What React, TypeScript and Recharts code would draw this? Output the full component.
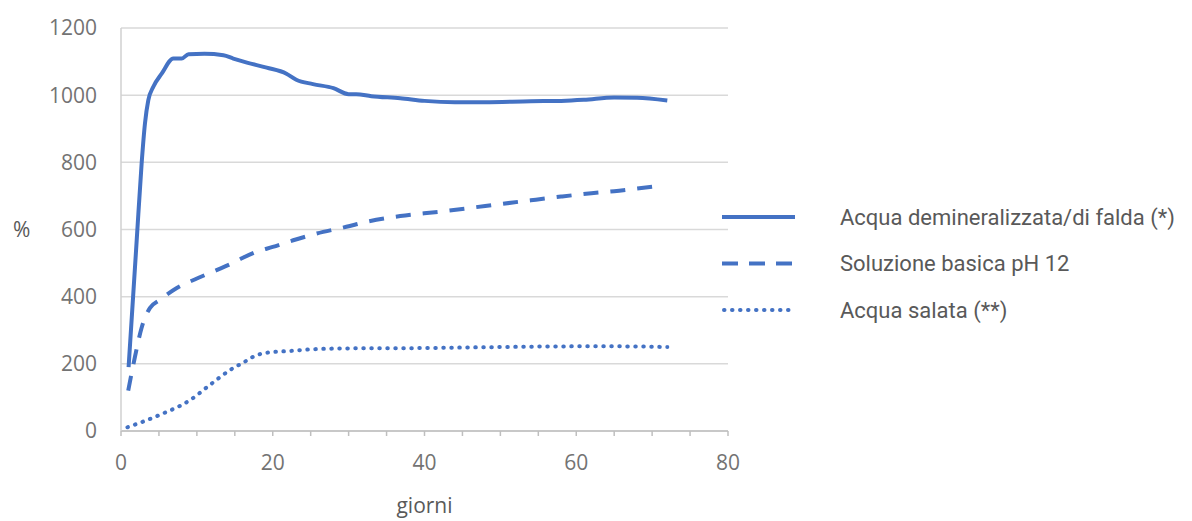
import React from 'react';
import { LineChart, Line, XAxis, YAxis, CartesianGrid, Legend } from 'recharts';

const demDays = [1, 2.07, 2.72, 3.16, 3.6, 4.26, 5.36, 6.9, 8, 8.9, 11, 13.5, 14.8, 16.6, 19.2, 21.8, 23.1, 25.3, 28, 30, 31, 33, 36.8, 40, 44, 48, 54, 58, 61, 65, 68, 72];
const demValues = [190, 568, 797, 916, 985, 1025, 1064, 1109, 1109, 1122, 1123, 1119, 1109, 1097, 1082, 1064, 1046, 1033, 1021, 1003, 1003, 997, 991, 983, 979, 979, 982, 983, 986, 993, 992, 984];

const basDays = [0.95, 1.84, 2.7, 3.8, 5.1, 7.3, 10, 12.6, 14.7, 16, 17.9, 20, 22.7, 25.8, 29.7, 32.4, 36.8, 42, 48, 54, 58, 62, 65, 68, 71];
const basValues = [120, 221, 306, 366, 390, 425, 454, 479, 500, 515, 534, 548, 568, 588, 608, 623, 640, 653, 670, 687, 698, 708, 714, 722, 730];

const salDays = [0.85, 5.1, 9.1, 11.7, 14.4, 16.3, 17.4, 19.2, 22.7, 24.9, 30, 40, 50, 60, 66, 72];
const salValues = [11, 48, 92, 137, 182, 206, 221, 233, 239, 243, 246, 247, 250, 252, 252, 250];

const xTicks = [0, 5, 10, 15, 20, 25, 30, 35, 40, 45, 50, 55, 60, 65, 70, 75, 80];
const yTicks = [0, 200, 400, 600, 800, 1000, 1200];

const seriesNames = ['Acqua demineralizzata/di falda (*)', 'Soluzione basica pH 12', 'Acqua salata (**)'];
const xLabel = 'giorni';
const yLabel = '%';

const demData = demDays.map((d, i) => ({ x: d, y: demValues[i] }));
const basData = basDays.map((d, i) => ({ x: d, y: basValues[i] }));
const salData = salDays.map((d, i) => ({ x: d, y: salValues[i] }));

const BLUE = '#4472C4';
const TICK_COLOR = '#737373';
const LEGEND_COLOR = '#595959';
const FONT = '"Open Sans", sans-serif';

const dashes = ['', '15 12', '0.5 7.5'];

const renderLegend = () => (
  <svg width={464} height={130} style={{ overflow: 'visible', display: 'block' }}>
    {seriesNames.map((name, i) => {
      const cy = 18 + i * 46.5;
      return (
        <g key={name}>
          <line
            x1={i === 2 ? -4 : -6}
            x2={67}
            y1={cy}
            y2={cy}
            stroke={BLUE}
            strokeWidth={4}
            strokeDasharray={i === 1 ? '16 11' : dashes[i] || undefined}
            strokeLinecap={i === 2 ? 'round' : 'butt'}
          />
          <text
            x={112}
            y={cy}
            dy="0.36em"
            fill={LEGEND_COLOR}
            fontFamily="Roboto, sans-serif"
            fontSize={22}
          >
            {name}
          </text>
        </g>
      );
    })}
  </svg>
);

export default function App() {
  return (
    <div style={{ position: 'absolute', left: 0, top: 0, width: 1192, height: 521, background: '#fff' }}>
      <LineChart width={1192} height={521} margin={{ top: 28, right: 0, bottom: 0, left: 0 }}>
        <CartesianGrid vertical={false} stroke="#d9d9d9" strokeWidth={1.5} />
        <XAxis
          type="number"
          dataKey="x"
          domain={[0, 80]}
          ticks={xTicks}
          interval={0}
          allowDataOverflow
          height={90}
          tickFormatter={(v: number) => (v % 20 === 0 ? String(v) : '')}
          tick={{ fill: TICK_COLOR, fontSize: 21, fontFamily: FONT }}
          tickSize={5}
          tickMargin={19}
          stroke="#bfbfbf"
          strokeWidth={1.5}
          label={{ value: xLabel, position: 'insideBottom', offset: 8, fill: LEGEND_COLOR, fontSize: 21, fontFamily: FONT }}
        />
        <YAxis
          type="number"
          domain={[0, 1200]}
          ticks={yTicks}
          interval={0}
          width={121}
          tickLine={false}
          tickSize={6}
          tickMargin={18}
          tick={{ fill: TICK_COLOR, fontSize: 21, fontFamily: FONT }}
          stroke="#d0d0d0"
          strokeWidth={1.5}
          label={{ value: yLabel, position: 'insideLeft', offset: 13, fill: LEGEND_COLOR, fontSize: 21, fontFamily: FONT }}
        />
        <Legend
          layout="vertical"
          align="right"
          verticalAlign="middle"
          content={renderLegend}
          wrapperStyle={{ position: 'absolute', left: 728, top: 199, width: 464, height: 130 }}
        />
        <Line
          data={demData}
          dataKey="y"
          name={seriesNames[0]}
          type="monotone"
          stroke={BLUE}
          strokeWidth={4}
          dot={false}
          activeDot={false}
          isAnimationActive={false}
        />
        <Line
          data={basData}
          dataKey="y"
          name={seriesNames[1]}
          type="monotone"
          stroke={BLUE}
          strokeWidth={4}
          strokeDasharray={dashes[1]}
          dot={false}
          activeDot={false}
          isAnimationActive={false}
        />
        <Line
          data={salData}
          dataKey="y"
          name={seriesNames[2]}
          type="monotone"
          stroke={BLUE}
          strokeWidth={4}
          strokeDasharray={dashes[2]}
          strokeLinecap="round"
          dot={false}
          activeDot={false}
          isAnimationActive={false}
        />
      </LineChart>
    </div>
  );
}
